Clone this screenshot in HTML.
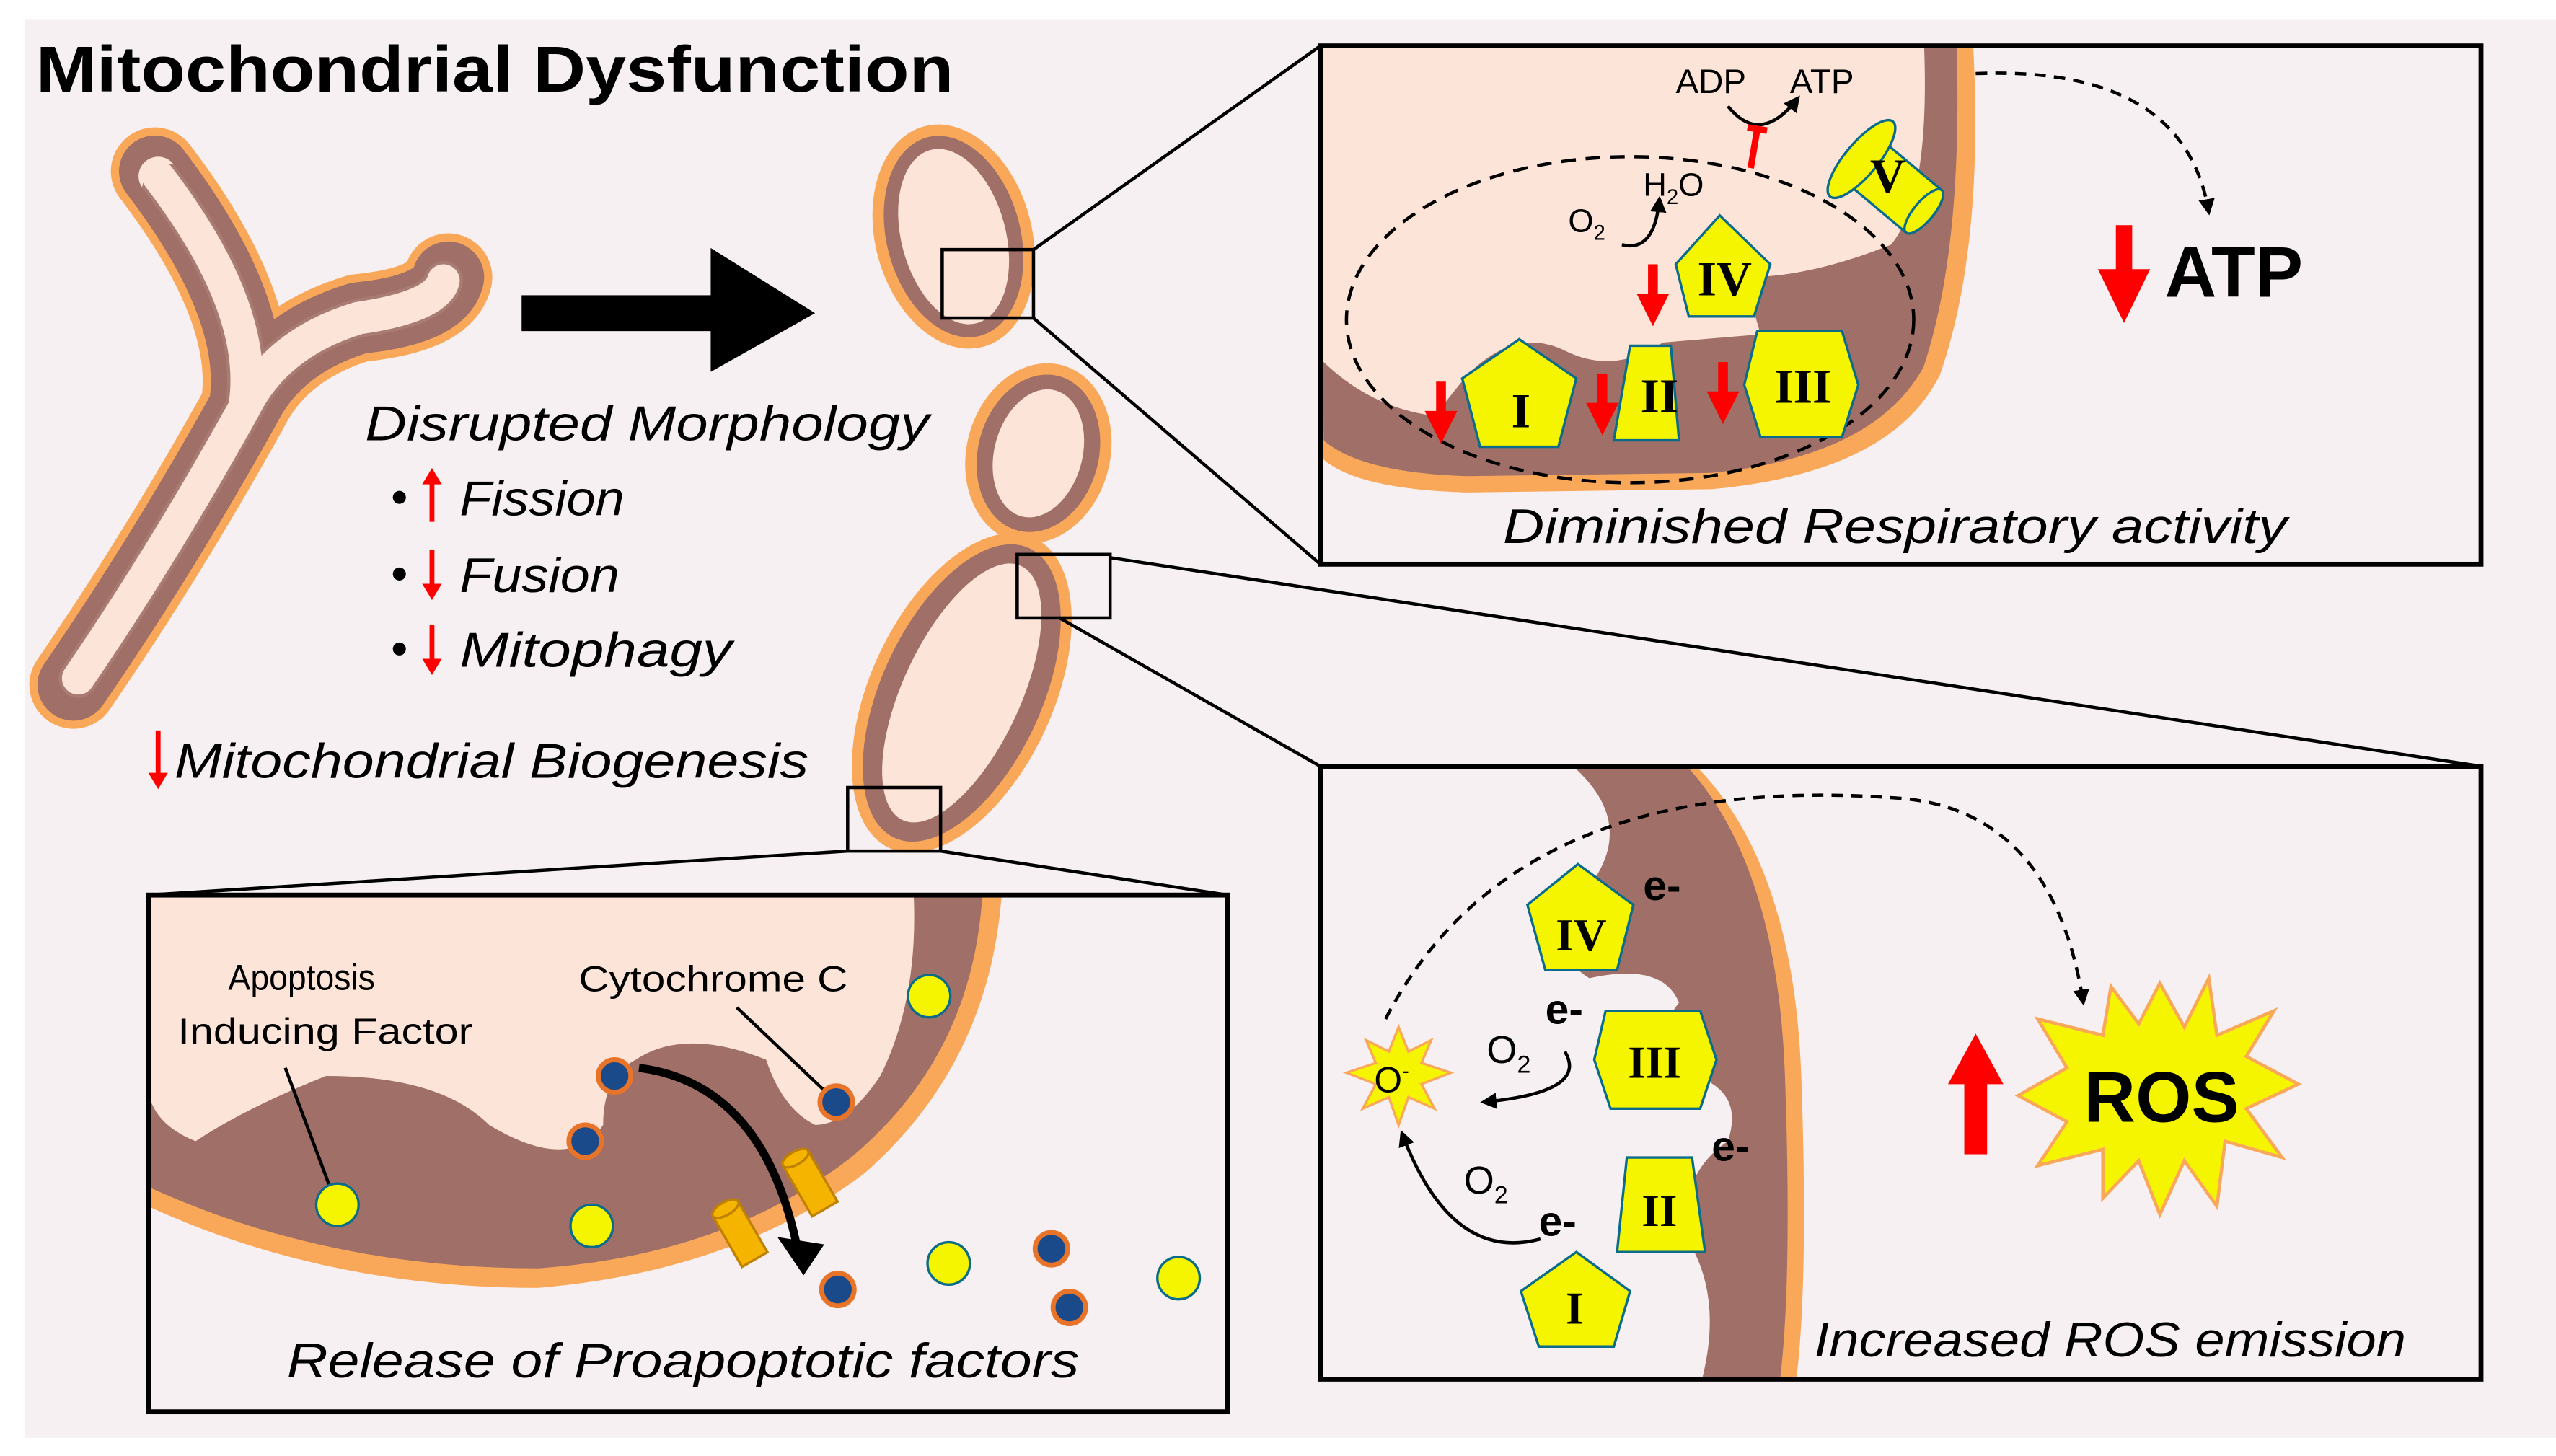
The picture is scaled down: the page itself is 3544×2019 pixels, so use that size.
<!DOCTYPE html>
<html><head><meta charset="utf-8"><style>
html,body{margin:0;padding:0;background:#fff}
svg{display:block}
text{font-family:"Liberation Sans",sans-serif}
.it{font-style:italic}
.rn{font-family:"Liberation Serif",serif;font-weight:bold}
</style></head><body>
<svg width="3544" height="2019" viewBox="0 0 1568 893" xmlns="http://www.w3.org/2000/svg">
<defs>
<marker id="ah" viewBox="0 0 10 10" refX="8" refY="5" markerWidth="5" markerHeight="5" orient="auto"><path d="M0,0L10,5L0,10z" fill="#000"/></marker>
<g id="dn"><rect x="-3" y="-28" width="6" height="20" fill="#f00"/><path d="M-10,-10L10,-10L0,10z" fill="#f00"/></g>
</defs>
<rect x="15" y="12" width="1553" height="870" fill="#f6f0f2"/>
<text x="22" y="56" font-size="40" font-weight="bold" textLength="563" lengthAdjust="spacingAndGlyphs">Mitochondrial Dysfunction</text>

<!-- Y mitochondrion -->
<g fill="none" stroke-linecap="round" stroke-linejoin="round">
<path d="M45,420 Q100,340 150,250 Q160,190 95,105 M150,250 Q170,210 220,195 Q270,190 275,170" stroke="#f9a85a" stroke-width="54"/>
<path d="M45,420 Q100,340 150,250 Q160,190 95,105 M150,250 Q170,210 220,195 Q270,190 275,170" stroke="#a07068" stroke-width="44"/>
<path d="M48,416 Q100,340 150,250 Q160,190 97,108 M150,250 Q170,210 220,195 Q268,188 272,172" stroke="#fde4d8" stroke-width="24"/>
<path d="M48,416 Q100,340 150,250 Q160,190 97,108 M150,250 Q170,210 220,195 Q268,188 272,172" stroke="#a07068" stroke-width="34" stroke-dasharray="3 13" opacity="0.9"/>
<path d="M48,416 Q100,340 150,250 Q160,190 97,108 M150,250 Q170,210 220,195 Q268,188 272,172" stroke="#fde4d8" stroke-width="20"/>
</g>

<!-- arrow -->
<rect x="320" y="181" width="120" height="22" fill="#000"/>
<path d="M436,152L500,192L436,228z" fill="#000"/>

<!-- small mito top -->
<g transform="translate(585,145) rotate(-15)"><ellipse rx="48" ry="70" fill="#f9a85a"/><ellipse rx="41" ry="63" fill="#a07068"/><ellipse rx="32" ry="55" fill="#fde4d8"/></g>
<rect x="578" y="153" width="56" height="42" fill="none" stroke="#000" stroke-width="2"/>
<!-- lower mitos -->
<g transform="translate(637,278) rotate(15)"><ellipse rx="44" ry="56" fill="#f9a85a"/><ellipse rx="37" ry="49" fill="#a07068"/><ellipse rx="27" ry="40" fill="#fde4d8"/></g>
<g transform="translate(590,425) rotate(25)"><ellipse rx="56" ry="105" fill="#f9a85a"/><ellipse rx="49" ry="98" fill="#a07068"/><ellipse rx="36" ry="86" fill="#fde4d8"/></g>
<rect x="624" y="340" width="57" height="39" fill="none" stroke="#000" stroke-width="2"/>
<rect x="520" y="483" width="57" height="39" fill="none" stroke="#000" stroke-width="2"/>

<!-- connector lines -->
<g stroke="#000" stroke-width="2">
<line x1="634" y1="153" x2="810" y2="28"/><line x1="634" y1="195" x2="810" y2="346"/>
<line x1="681" y1="342" x2="1522" y2="470"/><line x1="650" y1="379" x2="810" y2="470"/>
<line x1="520" y1="522" x2="91" y2="549"/><line x1="577" y1="522" x2="753" y2="549"/>
</g>

<!-- left texts -->
<text x="224" y="270" font-size="30" class="it" textLength="346" lengthAdjust="spacingAndGlyphs">Disrupted Morphology</text>
<circle cx="245" cy="305" r="4"/><circle cx="245" cy="352" r="4"/><circle cx="245" cy="398" r="4"/>
<path d="M265,320V295" stroke="#f00" stroke-width="3"/><path d="M259,297L265,287L271,297z" fill="#f00"/>
<path d="M265,337V360" stroke="#f00" stroke-width="3"/><path d="M259,358L265,368L271,358z" fill="#f00"/>
<path d="M265,383V406" stroke="#f00" stroke-width="3"/><path d="M259,404L265,414L271,404z" fill="#f00"/>
<text x="282" y="316" font-size="30" class="it" textLength="101" lengthAdjust="spacingAndGlyphs">Fission</text>
<text x="282" y="363" font-size="30" class="it" textLength="98" lengthAdjust="spacingAndGlyphs">Fusion</text>
<text x="282" y="409" font-size="30" class="it" textLength="167" lengthAdjust="spacingAndGlyphs">Mitophagy</text>
<path d="M97,448V476" stroke="#f00" stroke-width="3"/><path d="M91,474L97,484L103,474z" fill="#f00"/>
<text x="107" y="477" font-size="30" class="it" textLength="389" lengthAdjust="spacingAndGlyphs">Mitochondrial Biogenesis</text>

<!-- top right panel -->
<svg x="810" y="28" width="712" height="318" viewBox="810 28 712 318">
<rect x="810" y="28" width="712" height="318" fill="#f6f0f2"/>
<path d="M810,20 H1210 Q1218,150 1190,230 Q1160,290 1050,300 L900,302 Q830,300 810,280z" fill="#f9a85a"/>
<path d="M810,20 H1200 Q1205,150 1180,225 Q1150,280 1050,290 L900,292 Q835,290 812,270z" fill="#a07068"/>
<path d="M810,20 H1180 Q1185,120 1160,150 Q1110,170 1070,170 L1080,205 L1020,210 Q990,230 960,215 Q930,200 900,230 L880,255 Q840,250 810,220z" fill="#fde4d8"/>
</svg>
<rect x="810" y="28" width="712" height="318" fill="none" stroke="#000" stroke-width="3"/>
<ellipse cx="1000" cy="196" rx="174" ry="100" fill="none" stroke="#000" stroke-width="2" stroke-dasharray="9 6"/>
<g stroke="#0a6b8a" stroke-width="1.5" fill="#f5f500">
<path d="M932,208L967,232L956,274L908,274L897,232z"/>
<path d="M1000,212L1025,212L1030,270L990,270z"/>
<path d="M1078,203L1130,203L1140,236L1130,268L1080,268L1070,236z"/>
<path d="M1055,132L1086,162L1076,194L1036,194L1028,162z"/>
<g transform="translate(1145,100) rotate(40)"><rect x="-4" y="-17" width="50" height="34"/><ellipse cx="46" cy="0" rx="6" ry="17"/><ellipse cx="-4" cy="0" rx="10" ry="30"/></g>
</g>
<g font-size="30" text-anchor="middle">
<text x="933" y="262" class="rn">I</text><text x="1018" y="253" class="rn">II</text><text x="1106" y="247" class="rn">III</text><text x="1058" y="181" class="rn">IV</text><text x="1158" y="118" class="rn">V</text>
</g>
<use href="#dn" x="884" y="262"/><use href="#dn" x="983" y="257"/><use href="#dn" x="1057" y="250"/><use href="#dn" x="1014" y="190"/>
<text x="1028" y="57" font-size="21">ADP</text><text x="1098" y="57" font-size="21">ATP</text>
<path d="M1060,65 Q1080,90 1103,60" fill="none" stroke="#000" stroke-width="2" marker-end="url(#ah)"/>
<path d="M1072,78L1084,80M1078,79L1074,103" stroke="#f00" stroke-width="4"/>
<text x="1008" y="120" font-size="20">H<tspan font-size="13" dy="5">2</tspan><tspan dy="-5">O</tspan></text>
<text x="962" y="142" font-size="20">O<tspan font-size="13" dy="5">2</tspan></text>
<path d="M995,150 Q1015,155 1018,122" fill="none" stroke="#000" stroke-width="2" marker-end="url(#ah)"/>
<path d="M1212,45 Q1340,40 1355,130" fill="none" stroke="#000" stroke-width="2" stroke-dasharray="7 5" marker-end="url(#ah)"/>
<rect x="1298" y="138" width="10" height="30" fill="#f00"/><path d="M1287,165L1319,165L1303,198z" fill="#f00"/>
<text x="1328" y="182" font-size="44" font-weight="bold">ATP</text>
<text x="922" y="333" font-size="30" class="it" textLength="481" lengthAdjust="spacingAndGlyphs">Diminished Respiratory activity</text>

<!-- bottom right panel -->
<svg x="810" y="470" width="712" height="376" viewBox="810 470 712 376">
<rect x="810" y="470" width="712" height="376" fill="#f6f0f2"/>
<path d="M960,460 H1030 Q1100,520 1105,660 Q1110,800 1100,860 H1085 Q1085,760 1080,700 Q1078,640 1060,600 Q1050,520 960,460z" fill="#f9a85a"/>
<path d="M950,460 H1025 Q1090,520 1095,660 Q1100,800 1090,860 H1040 Q1060,800 1035,760 Q1030,720 1060,700 Q1070,670 1040,660 Q1010,640 1030,615 Q1020,590 975,600 Q950,585 975,560 Q990,500 950,460z" fill="#a07068"/>
<path d="M810,470 H965 Q1010,510 965,555 Q945,580 965,600 Q1040,620 1045,650 Q1060,680 1035,700 Q1010,750 1040,800 L1040,860 H810z" fill="#f6f0f2"/>
</svg>
<rect x="810" y="470" width="712" height="376" fill="none" stroke="#000" stroke-width="3"/>
<g stroke="#0a6b8a" stroke-width="1.5" fill="#f5f500">
<path d="M967,768L1000,792L990,826L944,826L933,792z"/>
<path d="M998,710L1038,710L1046,768L992,768z"/>
<path d="M985,620L1043,620L1053,650L1043,680L988,680L978,650z"/>
<path d="M968,530L1002,555L992,595L948,595L937,555z"/>
</g>
<g font-size="28" text-anchor="middle">
<text x="966" y="812" class="rn">I</text><text x="1018" y="752" class="rn">II</text><text x="1015" y="661" class="rn">III</text><text x="970" y="583" class="rn">IV</text>
</g>
<g font-size="26" font-weight="bold"><text x="1008" y="552">e-</text><text x="948" y="628">e-</text><text x="1050" y="712">e-</text><text x="944" y="758">e-</text></g>
<text x="912" y="652" font-size="24">O<tspan font-size="15" dy="6">2</tspan></text>
<text x="898" y="732" font-size="24">O<tspan font-size="15" dy="6">2</tspan></text>
<path d="M960,645 Q975,670 910,676" fill="none" stroke="#000" stroke-width="2" marker-end="url(#ah)"/>
<path d="M945,760 Q890,775 860,695" fill="none" stroke="#000" stroke-width="2" marker-end="url(#ah)"/>
<polygon points="858,630 864,645 878,638 872,652 890,658 872,665 880,680 864,673 858,690 852,673 836,680 844,665 826,658 844,652 838,638 852,645" fill="#f5f500" stroke="#f9a85a" stroke-width="1.5"/>
<text x="843" y="670" font-size="22">O<tspan font-size="13" dy="-9">-</tspan></text>
<path d="M850,625 Q930,470 1170,490 Q1260,500 1278,615" fill="none" stroke="#000" stroke-width="2" stroke-dasharray="7 5" marker-end="url(#ah)"/>
<rect x="1205" y="660" width="14" height="48" fill="#f00"/><path d="M1195,665L1229,665L1212,634z" fill="#f00"/>
<polygon points="1325,603 1340,630 1355,600 1360,635 1395,620 1378,648 1410,665 1378,680 1400,710 1365,700 1360,740 1340,712 1325,745 1312,712 1290,735 1290,705 1250,715 1268,688 1238,672 1268,655 1250,625 1290,635 1295,605 1312,628" fill="#f5f500" stroke="#f9a85a" stroke-width="2"/>
<text x="1326" y="688" font-size="44" font-weight="bold" text-anchor="middle">ROS</text>
<text x="1113" y="832" font-size="30" class="it" textLength="363" lengthAdjust="spacingAndGlyphs">Increased ROS emission</text>

<!-- bottom left panel -->
<svg x="91" y="549" width="662" height="317" viewBox="91 549 662 317">
<rect x="91" y="549" width="662" height="317" fill="#f6f0f2"/>
<path d="M91,540 H615 Q610,650 530,720 Q450,780 330,790 Q200,790 91,740z" fill="#f9a85a"/>
<path d="M91,540 H603 Q600,645 522,710 Q445,770 330,778 Q200,778 91,728z" fill="#a07068"/>
<path d="M91,540 H560 Q565,610 540,660 Q520,690 500,690 Q480,680 470,650 Q420,630 390,650 Q370,660 370,690 Q350,720 300,690 Q270,660 200,660 Q150,680 120,700 Q95,690 91,670z" fill="#fde4d8"/>
</svg>
<rect x="91" y="549" width="662" height="317" fill="none" stroke="#000" stroke-width="3"/>
<text x="140" y="607" font-size="22" textLength="90" lengthAdjust="spacingAndGlyphs">Apoptosis</text>
<text x="109" y="640" font-size="22" textLength="181" lengthAdjust="spacingAndGlyphs">Inducing Factor</text>
<text x="355" y="608" font-size="22" textLength="165" lengthAdjust="spacingAndGlyphs">Cytochrome C</text>
<line x1="175" y1="655" x2="205" y2="735" stroke="#000" stroke-width="2"/>
<line x1="452" y1="618" x2="510" y2="673" stroke="#000" stroke-width="2"/>
<g fill="#f5f500" stroke="#0a6b8a" stroke-width="1.5">
<circle cx="207" cy="739" r="13"/><circle cx="363" cy="752" r="13"/><circle cx="570" cy="611" r="13"/><circle cx="582" cy="775" r="13"/><circle cx="723" cy="784" r="13"/>
</g>
<g fill="#1a4a8a" stroke="#e8742a" stroke-width="3">
<circle cx="377" cy="660" r="10"/><circle cx="359" cy="700" r="10"/><circle cx="513" cy="676" r="10"/><circle cx="514" cy="791" r="10"/><circle cx="645" cy="766" r="10"/><circle cx="656" cy="802" r="10"/>
</g>
<g fill="#f5b400" stroke="#c08000" stroke-width="1.5">
<g transform="translate(497,726) rotate(-30)"><rect x="-9" y="-18" width="18" height="36"/><ellipse cx="0" cy="-18" rx="9" ry="4"/></g>
<g transform="translate(454,757) rotate(-30)"><rect x="-9" y="-18" width="18" height="36"/><ellipse cx="0" cy="-18" rx="9" ry="4"/></g>
</g>
<path d="M392,655 Q470,665 490,770" fill="none" stroke="#000" stroke-width="5"/>
<path d="M476,760L505,762L494,782z" fill="#000" transform="rotate(5 490 770)"/>
<text x="176" y="845" font-size="30" class="it" textLength="486" lengthAdjust="spacingAndGlyphs">Release of Proapoptotic factors</text>
</svg>
</body></html>
